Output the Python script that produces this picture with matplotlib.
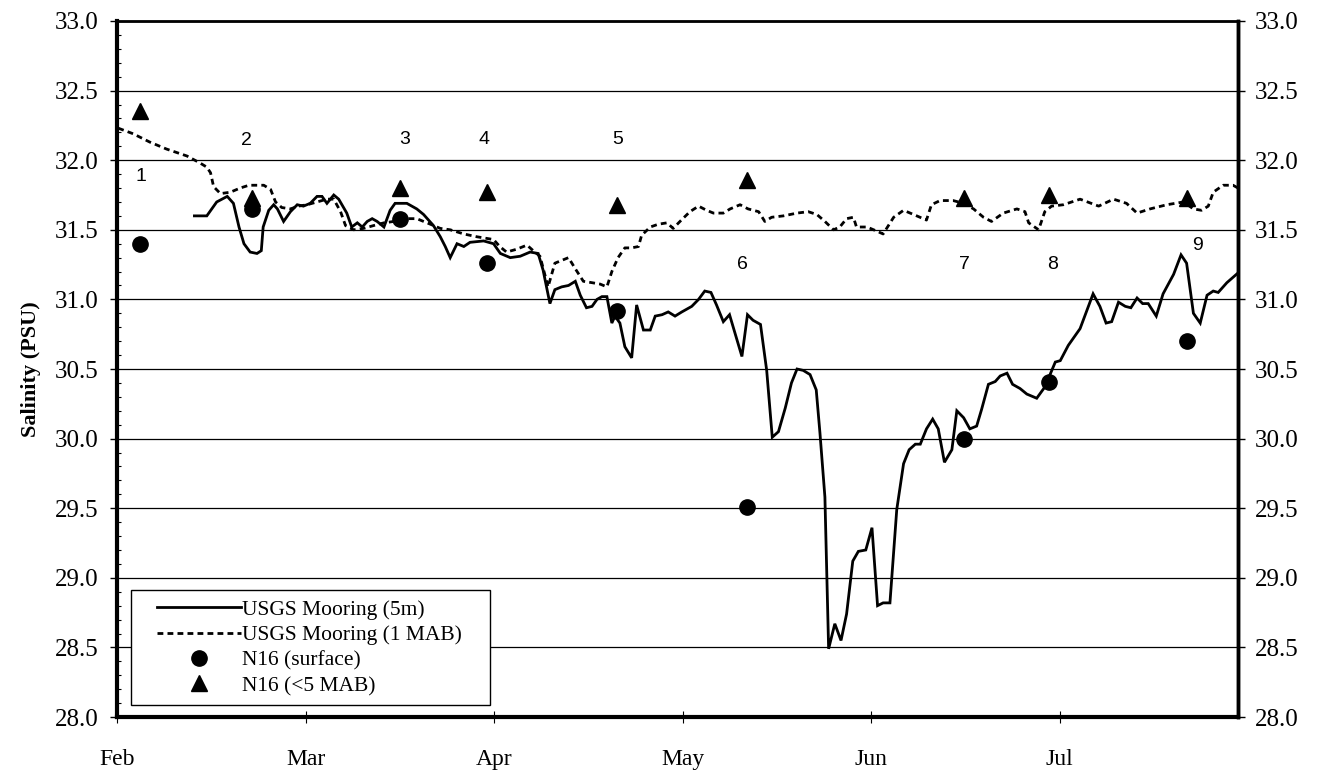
import matplotlib
matplotlib.use('Agg')
import matplotlib.pyplot as plt
from matplotlib.lines import Line2D
from matplotlib.patches import Rectangle
from matplotlib.ticker import MultipleLocator, FormatStrFormatter

# time axis: days since 1 Feb
day_5m = [12.5, 14.5, 16.1, 17.8, 18.8, 19.7, 20.5, 21.5, 22.6, 23.3, 23.6, 24.5, 25.3, 25.9,
          26.9, 28.0, 29.1, 30.1, 31.2, 32.3, 33.1, 33.9, 35.0, 35.8, 37.1, 37.9, 38.8, 39.6,
          40.4, 41.2, 42.0, 43.1, 44.1, 44.9, 46.8, 48.4, 49.5, 51.1, 52.2, 53.0, 53.8, 54.9,
          56.0, 57.0, 59.2, 60.8, 61.9, 63.5, 65.1, 66.7, 68.0, 68.8, 69.9, 70.7, 71.8, 72.9,
          74.0, 74.8, 75.8, 76.7, 77.5, 78.3, 79.1, 79.9, 80.4, 81.2, 82.0, 83.1, 83.9, 85.0,
          86.1, 86.9, 88.0, 89.0, 90.1, 91.2, 92.8, 93.9, 94.9, 95.9, 96.8, 97.9, 98.9, 100.9,
          101.8, 102.7, 103.9, 104.9, 105.8, 106.8, 107.9, 108.9, 109.8, 110.8, 111.9, 112.9,
          113.5, 114.3, 114.9, 115.9, 116.9, 117.8, 118.8, 119.7, 120.9, 121.9, 122.8, 123.7,
          124.8, 125.9, 127.0, 127.9, 128.9, 129.7, 130.7, 131.7, 132.6, 133.6, 134.8, 135.6,
          136.7, 137.7, 138.8, 139.6, 140.7, 141.8, 142.6, 143.7, 144.6, 145.8, 146.9, 148.5,
          149.8, 151.5, 152.3, 153.6, 155.5, 157.6, 158.7, 159.7, 160.6, 161.7, 162.8, 163.7,
          164.7, 165.6, 166.5, 167.8, 168.9, 170.6, 171.8, 172.7, 173.8, 174.9, 176.0, 177.0,
          177.8, 179.2, 180.5, 181.0]
sal_5m = [31.60, 31.60, 31.70, 31.74, 31.69, 31.52, 31.40, 31.34, 31.33, 31.35, 31.52, 31.64,
          31.68, 31.65, 31.56, 31.63, 31.68, 31.67, 31.69, 31.74, 31.74, 31.69, 31.75, 31.72,
          31.62, 31.52, 31.55, 31.52, 31.56, 31.58, 31.56, 31.52, 31.64, 31.69, 31.69, 31.65,
          31.61, 31.53, 31.45, 31.38, 31.30, 31.40, 31.38, 31.41, 31.42, 31.40, 31.33, 31.30,
          31.31, 31.34, 31.33, 31.21, 30.97, 31.07, 31.09, 31.10, 31.13, 31.03, 30.94, 30.95,
          31.00, 31.02, 31.02, 30.83, 30.88, 30.83, 30.66, 30.58, 30.96, 30.78, 30.78, 30.88,
          30.89, 30.91, 30.88, 30.91, 30.95, 31.00, 31.06, 31.05, 30.96, 30.84, 30.89, 30.59,
          30.89, 30.85, 30.82, 30.49, 30.01, 30.05, 30.22, 30.40, 30.50, 30.49, 30.46, 30.35,
          30.04, 29.58, 28.49, 28.67, 28.55, 28.74, 29.12, 29.19, 29.20, 29.36, 28.80, 28.82,
          28.82, 29.49, 29.82, 29.92, 29.96, 29.96, 30.07, 30.14, 30.07, 29.83, 29.92, 30.20,
          30.15, 30.07, 30.09, 30.21, 30.39, 30.41, 30.45, 30.47, 30.39, 30.36, 30.32, 30.29,
          30.37, 30.55, 30.56, 30.67, 30.79, 31.04, 30.95, 30.83, 30.84, 30.98, 30.95, 30.94,
          31.01, 30.97, 30.97, 30.88, 31.04, 31.18, 31.32, 31.26, 30.90, 30.83, 31.03, 31.06,
          31.05, 31.12, 31.17, 31.19]

day_1mab = [0.2, 2.6, 5.3, 8.0, 11.3, 13.4, 14.5, 15.1, 15.6, 16.7, 18.3, 19.9, 21.3, 23.7,
            24.8, 25.6, 26.6, 28.0, 29.3, 30.7, 32.3, 33.9, 35.0, 36.1, 36.9, 38.2, 39.8, 41.4,
            43.1, 44.7, 46.8, 48.4, 50.6, 52.2, 53.8, 56.0, 58.1, 60.8, 61.8, 62.9, 64.5, 66.2,
            67.2, 68.3, 69.6, 70.7, 71.8, 72.9, 74.0, 75.3, 76.7, 78.0, 79.1, 79.9, 80.9, 82.0,
            83.1, 84.2, 84.7, 86.1, 87.4, 88.8, 89.8, 90.9, 92.5, 93.9, 95.2, 96.3, 97.9, 99.0,
            100.6, 101.9, 103.6, 104.6, 105.7, 107.6, 109.8, 111.6, 113.0, 114.3, 115.7, 116.7,
            117.8, 118.9, 119.4, 121.1, 122.7, 123.7, 125.4, 127.0, 128.6, 130.7, 131.5, 132.9,
            135.0, 136.7, 138.3, 139.9, 141.2, 143.1, 145.3, 146.6, 147.2, 148.8, 149.8, 150.9,
            152.8, 155.5, 158.5, 160.9, 163.0, 164.7, 166.8, 169.5, 172.2, 173.8, 175.1, 176.2,
            177.0, 178.6, 180.2, 181.0]
sal_1mab = [32.23, 32.19, 32.13, 32.08, 32.03, 31.98, 31.95, 31.91, 31.81, 31.76, 31.77, 31.80,
            31.82, 31.82, 31.79, 31.70, 31.66, 31.65, 31.67, 31.68, 31.70, 31.72, 31.72, 31.63,
            31.53, 31.50, 31.51, 31.53, 31.55, 31.56, 31.58, 31.58, 31.54, 31.51, 31.50, 31.47,
            31.45, 31.43, 31.38, 31.34, 31.36, 31.39, 31.35, 31.31, 31.09, 31.26, 31.28, 31.30,
            31.22, 31.13, 31.12, 31.11, 31.09, 31.20, 31.30, 31.37, 31.37, 31.38, 31.46, 31.52,
            31.54, 31.55, 31.51, 31.56, 31.63, 31.67, 31.64, 31.62, 31.62, 31.65, 31.68, 31.65,
            31.63, 31.56, 31.59, 31.60, 31.62, 31.63, 31.61, 31.56, 31.50, 31.52, 31.58, 31.59,
            31.52, 31.52, 31.49, 31.47, 31.59, 31.64, 31.61, 31.57, 31.68, 31.71, 31.71, 31.69,
            31.65, 31.59, 31.56, 31.62, 31.65, 31.63, 31.55, 31.50, 31.63, 31.67, 31.68, 31.72,
            31.67, 31.72, 31.69, 31.62, 31.65, 31.68, 31.70, 31.65, 31.64, 31.67, 31.77, 31.82,
            31.82, 31.80]

# N16 station casts
n16_day = [3.7, 21.8, 45.7, 59.7, 80.7, 101.8, 136.7, 150.5, 172.7]
n16_surface = [31.40, 31.65, 31.58, 31.26, 30.92, 29.51, 30.00, 30.41, 30.70]
n16_bottom = [32.35, 31.73, 31.80, 31.77, 31.68, 31.86, 31.73, 31.75, 31.73]
cruise_ids = ['1', '2', '3', '4', '5', '6', '7', '8', '9']
cruise_label_day = [3.9, 20.9, 46.5, 59.3, 80.9, 101.0, 136.8, 151.1, 174.5]
cruise_label_sal = [31.88, 32.14, 32.15, 32.15, 32.15, 31.25, 31.25, 31.25, 31.39]

months = ['Feb', 'Mar', 'Apr', 'May', 'Jun', 'Jul']
month_step = 365.25 / 12

serif = 'Liberation Serif'
sans = 'Liberation Sans'

fig = plt.figure(figsize=(13.19, 7.74), dpi=100)
ax = fig.add_axes([0.0887, 0.0736, 0.8499, 0.8993])

ax.plot(day_5m, sal_5m, color='black', lw=2.0, solid_joinstyle='miter', zorder=3)
ax.plot(day_1mab, sal_1mab, color='black', lw=2.0, dashes=(2.1, 1.5), zorder=3)
ax.plot(n16_day, n16_surface, ls='none', marker='o', ms=11, color='black', zorder=4)
ax.plot(n16_day, n16_bottom, ls='none', marker='^', ms=12, color='black', zorder=4)

for lab, d, s in zip(cruise_ids, cruise_label_day, cruise_label_sal):
    ax.text(d, s, lab, ha='center', va='center', fontsize=14, family=sans)

ax.set_xlim(0, 181)
ax.set_ylim(28.0, 33.0)
ax.yaxis.set_major_locator(MultipleLocator(0.5))
ax.yaxis.set_minor_locator(MultipleLocator(0.1))
ax.yaxis.set_major_formatter(FormatStrFormatter('%.1f'))
ax.grid(axis='y', which='major', color='black', lw=0.9)

ax.set_xticks([i * month_step for i in range(len(months))])
ax.set_xticklabels(months)
ax.tick_params(axis='x', direction='inout', length=8, width=0.8, pad=19, labelsize=17)
ax.tick_params(axis='y', which='major', direction='out', length=5, width=1, pad=8, labelsize=18)
ax.tick_params(axis='y', which='minor', direction='in', length=3, width=0.8)
for t in ax.get_xticklabels() + ax.get_yticklabels():
    t.set_family(serif)

ax.set_ylabel('Salinity (PSU)', fontsize=16, fontweight='bold', family=serif, labelpad=10)

for side, w in [('left', 3), ('bottom', 3), ('right', 2.5), ('top', 2)]:
    ax.spines[side].set_linewidth(w)

ax2 = ax.twinx()
ax2.set_ylim(28.0, 33.0)
ax2.yaxis.set_major_locator(MultipleLocator(0.5))
ax2.yaxis.set_major_formatter(FormatStrFormatter('%.1f'))
ax2.tick_params(axis='y', direction='out', length=5, width=1, pad=7, labelsize=18)
for t in ax2.get_yticklabels():
    t.set_family(serif)
ax2.spines['right'].set_linewidth(2.5)

# legend box drawn separately so the entries can sit inset from its border
ax.add_patch(Rectangle((0.0125, 0.017), 0.3205, 0.165, transform=ax.transAxes,
                       facecolor='white', edgecolor='black', lw=1, zorder=5))
handles = [
    Line2D([], [], color='black', lw=2.0),
    Line2D([], [], color='black', lw=2.0, dashes=(2.1, 1.5)),
    Line2D([], [], ls='none', marker='o', ms=11, color='black'),
    Line2D([], [], ls='none', marker='^', ms=11, color='black'),
]
labels = ['USGS Mooring (5m)', 'USGS Mooring (1 MAB)', 'N16 (surface)', 'N16 (<5 MAB)']
leg = ax.legend(handles, labels, loc='center left', bbox_to_anchor=(0.036, 0.0995),
                frameon=False, borderpad=0, borderaxespad=0, handlelength=3.9,
                handletextpad=0.05, labelspacing=0.25, prop={'family': serif, 'size': 15.5})
leg.set_zorder(6)

fig.savefig('out.png', dpi=100)
